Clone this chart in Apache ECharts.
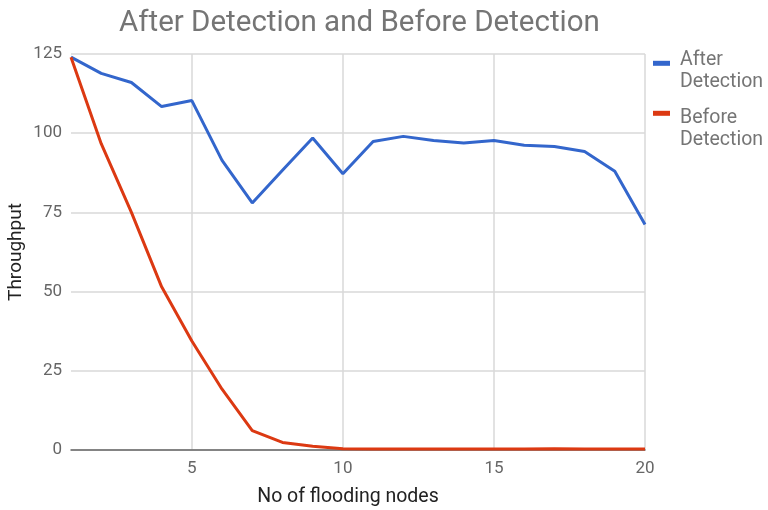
<!DOCTYPE html>
<html><head><meta charset="utf-8">
<script src="https://cdn.jsdelivr.net/npm/echarts@6/dist/echarts.min.js"></script>
<style>html,body{margin:0;padding:0;background:#fff}#c{width:768px;height:510px}</style>
</head><body><div id="c"></div>
<script>
const nodes = [1,2,3,4,5,6,7,8,9,10,11,12,13,14,15,16,17,18,19,20];
const afterDetection = [124,118.9,116,108.4,110.3,91.4,78,88.3,98.5,87.2,97.4,99,97.7,96.9,97.7,96.2,95.8,94.2,88,71.2];
const beforeDetection = [124,96.7,75,51.5,34.4,19.2,6.1,2.4,1.2,0.4,0.3,0.3,0.3,0.3,0.3,0.3,0.4,0.3,0.3,0.3];
const xTicks = [5,10,15,20];
const seriesNames = ['After Detection','Before Detection'];
const colors = ['#3366cc','#dc3912'];

const chart = echarts.init(document.getElementById('c'), null, {renderer:'canvas'});
const font = 'Roboto';
function legend(name, top, spacer){
  return {
    data:[name], orient:'vertical', left:653, top:top, padding:0,
    icon:'rect', itemWidth:17, itemHeight:5,
    formatter: n => '{s| }\n' + n.split(' ').map(w => '{t|' + w + '}').join('\n'),
    textStyle:{fontFamily:font, fontSize:19.5, lineHeight:22, color:'#757575', padding:[0,0,0,5],
      rich:{
        s:{fontSize:2, lineHeight:spacer, height:spacer},
        t:{fontFamily:font, fontSize:19.5, lineHeight:22, color:'#757575'}
      }}
  };
}
chart.setOption({
  animation:false,
  title:{text:'After Detection and Before Detection', left:114, top:4,
    textStyle:{fontFamily:font, fontSize:29.5, fontWeight:'normal', color:'#757575'}},
  legend:[legend(seriesNames[0],33.1,16.4), legend(seriesNames[1],75.8,31)],
  grid:{left:71, right:123, top:54, bottom:60, outerBoundsMode:'none', containLabel:false},
  xAxis:{type:'value', min:1, max:20,
    name:'No of flooding nodes', nameLocation:'middle', nameGap:37,
    nameTextStyle:{fontFamily:font, fontSize:19.5, color:'#222', padding:[0,20,0,0]},
    axisLine:{show:true, onZero:true, lineStyle:{color:'#666', width:1.5}},
    axisTick:{show:false, customValues:xTicks},
    axisLabel:{customValues:xTicks, fontFamily:font, fontSize:17, color:'#666', margin:10},
    splitLine:{show:true, lineStyle:{color:'#d9d9d9', width:1.5}}
  },
  yAxis:{type:'value', min:0, max:125, interval:25,
    name:'Throughput', nameLocation:'middle', nameGap:45, nameMoveOverlap:false,
    nameTextStyle:{fontFamily:font, fontSize:19, color:'#222'},
    axisLine:{show:false}, axisTick:{show:false},
    axisLabel:{fontFamily:font, fontSize:17, color:'#666', margin:9},
    splitLine:{lineStyle:{color:'#d9d9d9', width:1.5}}
  },
  series:[
    {name:seriesNames[0], type:'line', data:nodes.map((x,i)=>[x,afterDetection[i]]),
     symbol:'none', lineStyle:{width:3, color:colors[0]}, itemStyle:{color:colors[0]}, z:3},
    {name:seriesNames[1], type:'line', data:nodes.map((x,i)=>[x,beforeDetection[i]]),
     symbol:'none', lineStyle:{width:3, color:colors[1]}, itemStyle:{color:colors[1]}, z:4}
  ]
});
</script></body></html>
